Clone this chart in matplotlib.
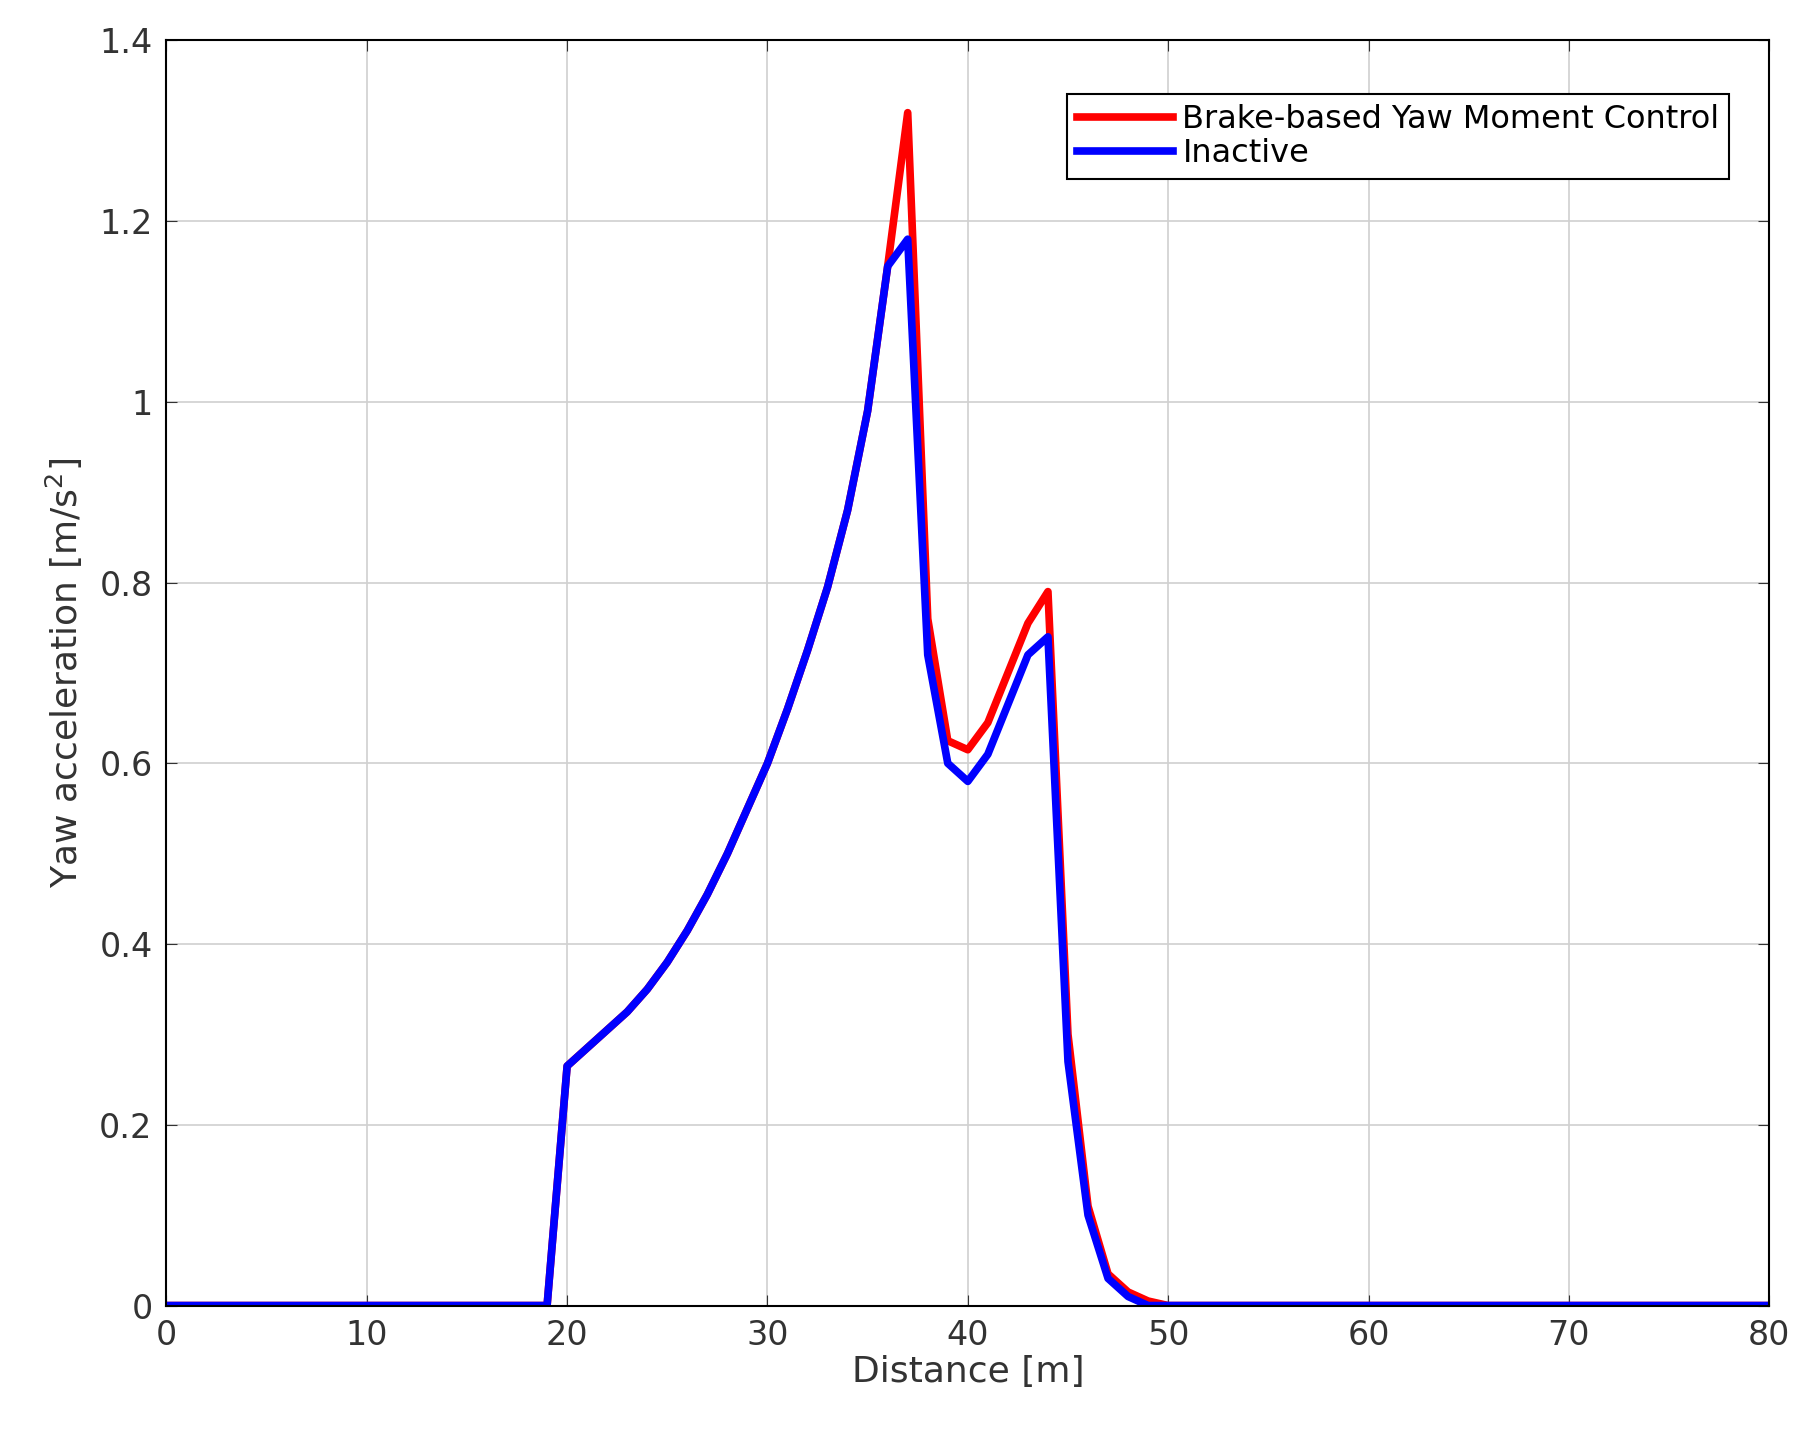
import matplotlib
matplotlib.use("Agg")
import matplotlib.pyplot as plt
import numpy as np

distance = list(range(0, 81))
base = [0.0]*20 + [0.265, 0.285, 0.305, 0.325, 0.35, 0.38, 0.415, 0.455, 0.50, 0.55,
                   0.60, 0.66, 0.725, 0.795, 0.88, 0.99, 1.15]
inactive = base + [1.18, 0.72, 0.60, 0.58, 0.61, 0.665, 0.72, 0.74, 0.27, 0.10, 0.03, 0.01, 0.0] + [0.0]*31
brake = base + [1.32, 0.76, 0.625, 0.615, 0.645, 0.70, 0.755, 0.79, 0.30, 0.11, 0.035, 0.015, 0.005] + [0.0]*31

fig = plt.figure(figsize=(18.09, 14.41), dpi=100)
ax = fig.add_axes([0.092, 0.094, 0.886, 0.878])
ax.plot(distance, brake, color=(1, 0, 0), lw=5.5, label="Brake-based Yaw Moment Control")
ax.plot(distance, inactive, color=(0, 0, 1), lw=5.5, label="Inactive")
ax.set_xlim(0, 80)
ax.set_ylim(0, 1.4)
ax.set_xticks(range(0, 81, 10))
ax.set_yticks([0, 0.2, 0.4, 0.6, 0.8, 1, 1.2, 1.4])
ax.set_yticklabels(["0", "0.2", "0.4", "0.6", "0.8", "1", "1.2", "1.4"])
ax.grid(True, color="#d0d0d0", lw=1.2)
ax.tick_params(labelsize=24, direction="in", top=True, right=True, length=8, colors="#333333", pad=10)
for s in ax.spines.values():
    s.set_linewidth(1.5)
ax.set_xlabel("Distance [m]", fontsize=26, color="#333333", labelpad=2)
ax.set_ylabel("Yaw acceleration [m/s$^2$]", fontsize=26, color="#333333", labelpad=10)
leg = ax.legend(loc="upper right", fontsize=23, fancybox=False, edgecolor="black",
                framealpha=1, handlelength=3.0, handletextpad=0.3, borderpad=0.3,
                labelspacing=0.1, bbox_to_anchor=(0.985, 0.97))
leg.get_frame().set_linewidth(1.5)
fig.savefig("out.png", dpi=100, facecolor="white")
